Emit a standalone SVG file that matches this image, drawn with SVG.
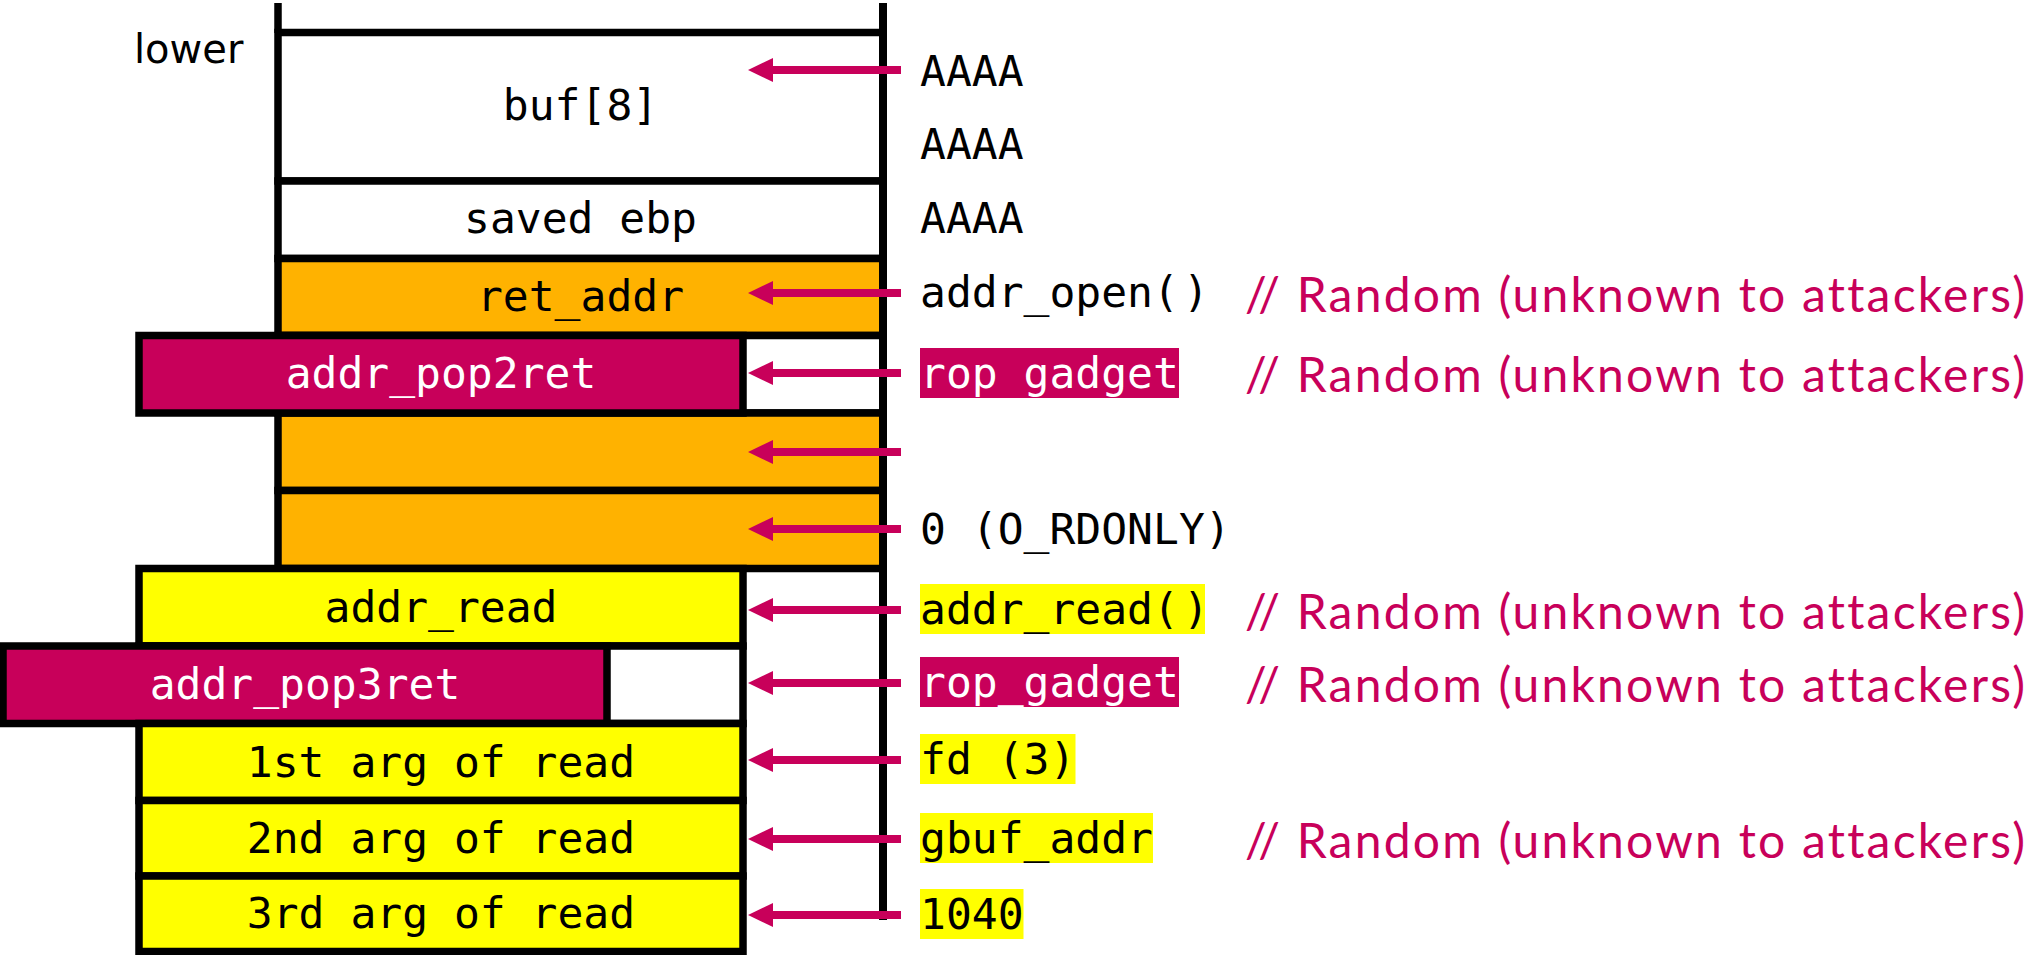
<svg xmlns="http://www.w3.org/2000/svg" width="2029" height="955" viewBox="0 0 2029 955">
  <style>
    .cell { stroke: #000; stroke-width: 7.5; }
    .white { fill: #FFFFFF; }
    .orange { fill: #FFB200; }
    .yellow { fill: #FFFF00; }
    .gadget { fill: #C8005A; }
    .mono { font-family: "DejaVu Sans Mono", monospace; font-size: 43px; fill: #000; }
    .label { text-anchor: middle; }
    .inv { fill: #FFFFFF; }
    .note { font-family: Lato, "Open Sans", sans-serif; font-size: 48px; fill: #C8005A; font-variant-ligatures: none; }
    .side { font-family: "DejaVu Sans", sans-serif; font-size: 40px; fill: #000; }
    .arrow { stroke: #C8005A; stroke-width: 8; fill: none; }
  </style>
  <defs>
    <marker id="head" markerUnits="userSpaceOnUse" viewBox="0 -13 26 26" refX="0" refY="0" markerWidth="26" markerHeight="26" orient="auto">
      <path d="M0,-12 L25,0 L0,12 Z" fill="#C8005A"/>
    </marker>
  </defs>

  <rect width="2029" height="955" fill="#FFFFFF"/>

  <!-- stack frame guide line (left, above the first slot) -->
  <line x1="278" y1="3" x2="278" y2="33" stroke="#000" stroke-width="7.5"/>

  <g id="buf">
    <rect class="cell white" x="278" y="32.5" width="605" height="148.5"/>
    <text class="mono label" x="580.5" y="120">buf[8]</text>
  </g>
  <g id="saved-ebp">
    <rect class="cell white" x="278" y="181" width="605" height="77.5"/>
    <text class="mono label" x="580.5" y="233">saved ebp</text>
  </g>
  <g id="ret-addr">
    <rect class="cell orange" x="278" y="258.5" width="605" height="77"/>
    <text class="mono label" x="580.5" y="311">ret_addr</text>
  </g>
  <g id="slot-pop2ret">
    <rect class="cell white" x="278" y="335.5" width="605" height="77.5"/>
  </g>
  <g id="slot-arg1">
    <rect class="cell orange" x="278" y="413" width="605" height="77.5"/>
  </g>
  <g id="slot-arg2">
    <rect class="cell orange" x="278" y="490.5" width="605" height="78"/>
  </g>
  <g id="addr-pop2ret">
    <rect class="cell gadget" x="139" y="335.5" width="604" height="77.5"/>
    <text class="mono label inv" x="441" y="388">addr_pop2ret</text>
  </g>
  <g id="addr-read">
    <rect class="cell yellow" x="139" y="568.5" width="604" height="77.5"/>
    <text class="mono label" x="441" y="622">addr_read</text>
  </g>
  <g id="slot-pop3ret">
    <rect class="cell white" x="139" y="646" width="604" height="77.5"/>
  </g>
  <g id="addr-pop3ret">
    <rect class="cell gadget" x="3" y="646" width="604" height="77.5"/>
    <text class="mono label inv" x="305" y="699">addr_pop3ret</text>
  </g>
  <g id="read-arg1">
    <rect class="cell yellow" x="139" y="723.5" width="604" height="77"/>
    <text class="mono label" x="441" y="777">1st arg of read</text>
  </g>
  <g id="read-arg2">
    <rect class="cell yellow" x="139" y="800.5" width="604" height="75.5"/>
    <text class="mono label" x="441" y="853">2nd arg of read</text>
  </g>
  <g id="read-arg3">
    <rect class="cell yellow" x="139" y="876" width="604" height="75.5"/>
    <text class="mono label" x="441" y="928">3rd arg of read</text>
  </g>

  <!-- right edge of the stack -->
  <line x1="883" y1="3" x2="883" y2="920" stroke="#000" stroke-width="8"/>

  <g id="lower-label">
    <text class="side" x="134" y="63">lower</text>
  </g>

  <!-- payload values -->
  <g id="payload">
    <rect class="gadget" x="920" y="348" width="259" height="50"/>
    <rect class="yellow" x="920" y="584" width="285" height="50"/>
    <rect class="gadget" x="920" y="657" width="259" height="50"/>
    <rect class="yellow" x="920" y="734" width="155.5" height="50"/>
    <rect class="yellow" x="920" y="813" width="233" height="50"/>
    <rect class="yellow" x="920" y="889" width="103.5" height="50"/>
    <text class="mono" x="920" y="86">AAAA</text>
    <text class="mono" x="920" y="159">AAAA</text>
    <text class="mono" x="920" y="233">AAAA</text>
    <text class="mono" x="920" y="307">addr_open(<tspan dx="4">)</tspan></text>
    <text class="mono inv" x="920" y="388">rop gadget</text>
    <text class="mono" x="920" y="544">0 (O_RDONLY)</text>
    <text class="mono" x="920" y="624">addr_read(<tspan dx="4">)</tspan></text>
    <text class="mono inv" x="920" y="697">rop_gadget</text>
    <text class="mono" x="920" y="774">fd (3)</text>
    <text class="mono" x="920" y="853">gbuf_addr</text>
    <text class="mono" x="920" y="929">1040</text>
  </g>

  <g id="notes">
    <text class="note" x="1245" y="312" textLength="780" lengthAdjust="spacing">// Random (unknown to attackers)</text>
    <text class="note" x="1245" y="392" textLength="780" lengthAdjust="spacing">// Random (unknown to attackers)</text>
    <text class="note" x="1245" y="629" textLength="780" lengthAdjust="spacing">// Random (unknown to attackers)</text>
    <text class="note" x="1245" y="702" textLength="780" lengthAdjust="spacing">// Random (unknown to attackers)</text>
    <text class="note" x="1245" y="858" textLength="780" lengthAdjust="spacing">// Random (unknown to attackers)</text>
  </g>

  <g id="connectors">
    <line class="arrow" x1="901" y1="70" x2="773" y2="70" marker-end="url(#head)"/>
    <line class="arrow" x1="901" y1="293" x2="773" y2="293" marker-end="url(#head)"/>
    <line class="arrow" x1="901" y1="373" x2="773" y2="373" marker-end="url(#head)"/>
    <line class="arrow" x1="901" y1="452" x2="773" y2="452" marker-end="url(#head)"/>
    <line class="arrow" x1="901" y1="529" x2="773" y2="529" marker-end="url(#head)"/>
    <line class="arrow" x1="901" y1="610" x2="773" y2="610" marker-end="url(#head)"/>
    <line class="arrow" x1="901" y1="683" x2="773" y2="683" marker-end="url(#head)"/>
    <line class="arrow" x1="901" y1="760" x2="773" y2="760" marker-end="url(#head)"/>
    <line class="arrow" x1="901" y1="839" x2="773" y2="839" marker-end="url(#head)"/>
    <line class="arrow" x1="901" y1="915" x2="773" y2="915" marker-end="url(#head)"/>
  </g>
</svg>
